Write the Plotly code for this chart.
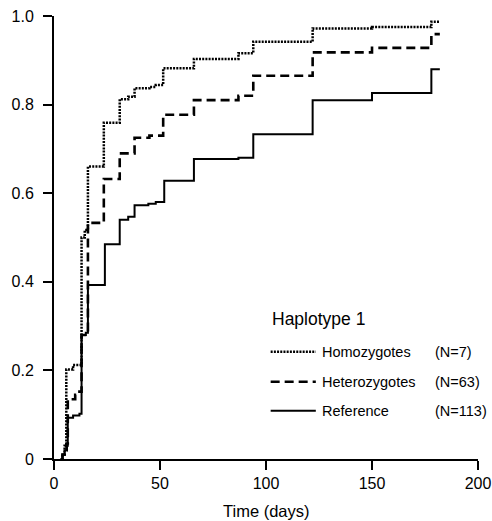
import plotly.graph_objects as go

# ---- data ----
ref_t = [3, 4, 5, 6, 6.5, 9, 12, 13, 15, 16, 24, 31, 35, 38, 44.5, 48, 52, 66, 87, 94, 122, 150, 178, 182]
ref_v = [0, 0.01, 0.02, 0.03, 0.093, 0.098, 0.102, 0.28, 0.285, 0.393, 0.485, 0.54, 0.547, 0.573, 0.576, 0.58,
         0.628, 0.677, 0.68, 0.733, 0.81, 0.826, 0.88, 0.88]

het_t = [3.5, 4, 5, 6, 6.5, 10, 12, 13, 16, 23.5, 31, 38, 45, 51.5, 66, 87, 94, 122, 150, 178, 182]
het_v = [0, 0.01, 0.02, 0.035, 0.135, 0.145, 0.152, 0.28, 0.533, 0.632, 0.69, 0.725, 0.73, 0.777, 0.81, 0.82,
         0.865, 0.918, 0.928, 0.959, 0.959]

hom_t = [3.5, 4, 5, 5.8, 9, 13, 14.5, 16, 23.5, 31, 35, 38, 45, 48, 51.5, 66, 87, 94, 122, 150, 178, 182]
hom_v = [0, 0.01, 0.03, 0.202, 0.212, 0.5, 0.517, 0.66, 0.759, 0.812, 0.818, 0.837, 0.84, 0.844, 0.882, 0.903,
         0.916, 0.942, 0.972, 0.975, 0.987, 0.987]

x_ticks = [0, 50, 100, 150, 200]
x_ticktext = ["0", "50", "100", "150", "200"]
y_ticks = [0, 0.2, 0.4, 0.6, 0.8, 1.0]
y_ticktext = ["0", "0.2", "0.4", "0.6", "0.8", "1.0"]
x_title = "Time (days)"

legend_title = "Haplotype 1"
group_names = ["Homozygotes", "Heterozygotes", "Reference"]
group_n = ["(N=7)", "(N=63)", "(N=113)"]

FONT = "Liberation Sans, Arial, sans-serif"

styles = [
    dict(color="black", width=2.5, dash="2px,1.2px"),
    dict(color="black", width=2.6, dash="9px,5px"),
    dict(color="black", width=2, dash="solid"),
]

fig = go.Figure()
for (t, v), st, name in zip([(hom_t, hom_v), (het_t, het_v), (ref_t, ref_v)], styles, group_names):
    fig.add_trace(go.Scatter(x=t, y=v, mode="lines", line=dict(shape="hv", **st),
                             name=name, showlegend=False))

# manual legend
row_y = [0.242, 0.1745, 0.109]
shapes = []
annotations = [
    dict(x=0.509, y=0.316, xref="paper", yref="paper", text=legend_title, showarrow=False,
         xanchor="left", yanchor="middle", font=dict(size=17.5, color="black", family=FONT)),
    dict(x=0.5, y=-0.118, xref="paper", yref="paper", text=x_title, showarrow=False,
         xanchor="center", yanchor="middle", font=dict(size=16.5, color="black", family=FONT)),
]
for yy, st, name, n in zip(row_y, styles, group_names, group_n):
    shapes.append(dict(type="line", xref="paper", yref="paper", x0=0.511, x1=0.6175, y0=yy, y1=yy,
                       line=dict(color="black", width=st["width"], dash=st["dash"])))
    annotations.append(dict(x=0.628, y=yy, xref="paper", yref="paper", text=name, showarrow=False,
                            xanchor="left", yanchor="middle", font=dict(size=14.5, color="black", family=FONT)))
    annotations.append(dict(x=0.893, y=yy, xref="paper", yref="paper", text=n, showarrow=False,
                            xanchor="left", yanchor="middle", font=dict(size=14.5, color="black", family=FONT)))

fig.update_layout(
    width=492, height=521,
    margin=dict(l=54, r=14, t=16, b=62),
    paper_bgcolor="white", plot_bgcolor="white",
    font=dict(family=FONT, size=16, color="black"),
    shapes=shapes, annotations=annotations,
    showlegend=False, hovermode=False,
)
fig.update_xaxes(range=[0, 200], tickvals=x_ticks, ticktext=x_ticktext, showline=True, linewidth=2,
                 linecolor="black", ticks="outside", ticklen=9, tickwidth=2, tickcolor="black",
                 showgrid=False, zeroline=False, tickfont=dict(size=16), automargin=False,
                 ticklabeloverflow="allow")
fig.update_yaxes(range=[0, 1], tickvals=y_ticks, ticktext=y_ticktext, showline=True, linewidth=2,
                 linecolor="black", ticks="outside", ticklen=9, tickwidth=2, tickcolor="black",
                 showgrid=False, zeroline=False, tickfont=dict(size=16), ticklabelstandoff=6,
                 automargin=False, ticklabeloverflow="allow")

# remove the default page margin so the 492x521 figure fills the window exactly
fig.write_html("out.html", config={"displayModeBar": False},
               post_script="document.body.style.margin='0';document.body.style.overflow='hidden';")
